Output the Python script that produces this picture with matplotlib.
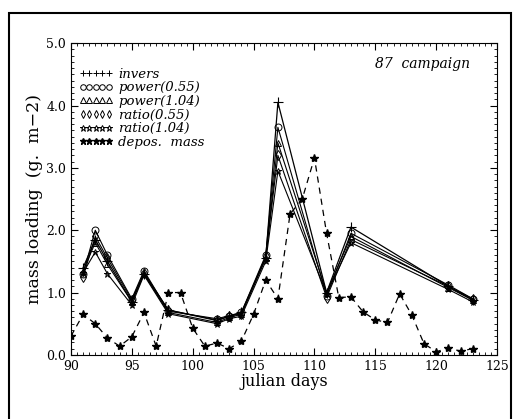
import matplotlib
matplotlib.use("Agg")
import matplotlib.pyplot as plt
from matplotlib.lines import Line2D
from matplotlib.patches import Rectangle
from matplotlib.ticker import MultipleLocator

# days of the model estimates
days = [91, 92, 93, 95, 96, 98, 102, 103, 104, 106, 107, 111, 113, 121, 123]
invers = [1.40, 1.85, 1.50, 0.85, 1.30, 0.72, 0.55, 0.62, 0.68, 1.55, 4.05, 1.00, 2.05, 1.10, 0.88]
power_055 = [1.30, 2.00, 1.60, 0.90, 1.35, 0.70, 0.58, 0.63, 0.68, 1.60, 3.65, 0.95, 1.95, 1.12, 0.90]
power_104 = [1.35, 1.80, 1.45, 0.85, 1.30, 0.68, 0.52, 0.60, 0.65, 1.55, 3.40, 1.00, 1.90, 1.08, 0.88]
ratio_055 = [1.25, 1.90, 1.55, 0.88, 1.32, 0.72, 0.56, 0.62, 0.66, 1.58, 3.20, 0.92, 1.85, 1.10, 0.90]
ratio_104 = [1.32, 1.65, 1.30, 0.80, 1.28, 0.66, 0.50, 0.58, 0.62, 1.50, 2.95, 0.98, 1.80, 1.05, 0.85]

# deposited mass, daily
depos_days = list(range(90, 124))
depos_mass = [0.30, 0.65, 0.50, 0.27, 0.14, 0.29, 0.68, 0.14, 1.00, 1.00,
              0.43, 0.14, 0.19, 0.10, 0.22, 0.65, 1.20, 0.90, 2.26, 2.50,
              3.16, 1.95, 0.92, 0.93, 0.69, 0.56, 0.52, 0.98, 0.64, 0.18,
              0.05, 0.11, 0.06, 0.10]

serif = "DejaVu Serif"

fig = plt.figure(figsize=(5.14, 4.19), dpi=100)
ax = fig.add_axes([0.138, 0.153, 0.829, 0.744])

kw = dict(color="black", linewidth=0.8, markersize=5, markeredgewidth=0.7)
ax.plot(days, invers, marker="+", markersize=7, color="black", linewidth=0.9, markeredgewidth=0.8)
ax.plot(days, power_055, marker="o", fillstyle="none", **kw)
ax.plot(days, power_104, marker="^", fillstyle="none", **kw)
ax.plot(days, ratio_055, marker="d", fillstyle="none", **kw)
ax.plot(days, ratio_104, marker="*", fillstyle="none", **kw)
ax.plot(depos_days, depos_mass, color="black", linestyle=(0, (5, 4)), linewidth=0.9,
        marker="*", markersize=6)

ax.set_xlim(90, 125)
ax.set_ylim(0, 5)
ax.xaxis.set_major_locator(MultipleLocator(5))
ax.xaxis.set_minor_locator(MultipleLocator(0.5))
ax.yaxis.set_major_locator(MultipleLocator(1))
ax.yaxis.set_minor_locator(MultipleLocator(0.1))
ax.tick_params(which="both", direction="in", top=True, right=True, labelsize=9)
ax.tick_params(which="major", length=5)
ax.tick_params(which="minor", length=2.5)
ax.yaxis.set_major_formatter(matplotlib.ticker.FormatStrFormatter("%.1f"))
for lab in ax.get_xticklabels() + ax.get_yticklabels():
    lab.set_family(serif)

ax.set_xlabel("julian days", family=serif, fontsize=11.5, labelpad=0)
ax.set_ylabel("mass loading  (g.  m\u22122)", family=serif, fontsize=12.5, labelpad=2)

ax.text(0.937, 0.955, "87  campaign", transform=ax.transAxes, ha="right", va="top",
        family=serif, style="italic", fontsize=10)

handles = [
    Line2D([], [], color="black", linestyle="none", marker="+", markersize=5, markeredgewidth=0.7),
    Line2D([], [], color="black", linestyle="none", marker="o", fillstyle="none", markersize=4, markeredgewidth=0.7),
    Line2D([], [], color="black", linestyle="none", marker="^", fillstyle="none", markersize=4, markeredgewidth=0.7),
    Line2D([], [], color="black", linestyle="none", marker="d", fillstyle="none", markersize=4, markeredgewidth=0.7),
    Line2D([], [], color="black", linestyle="none", marker="*", fillstyle="none", markersize=5, markeredgewidth=0.7),
    Line2D([], [], color="black", linestyle="none", marker="*", markersize=5),
]
labels = ["invers", "power(0.55)", "power(1.04)", "ratio(0.55)", "ratio(1.04)", "depos.  mass"]
ax.legend(handles, labels, loc="upper left", bbox_to_anchor=(-0.01, 0.96), frameon=False,
          numpoints=5, handlelength=2.6, handletextpad=0.4, labelspacing=0.05,
          prop={"family": serif, "style": "italic", "size": 9.5})

# border of the scanned page
fig.patches.append(Rectangle((0.018, -0.01), 0.977, 0.98, transform=fig.transFigure,
                             fill=False, edgecolor="black", linewidth=1.5))

fig.savefig("out.png", dpi=100)
